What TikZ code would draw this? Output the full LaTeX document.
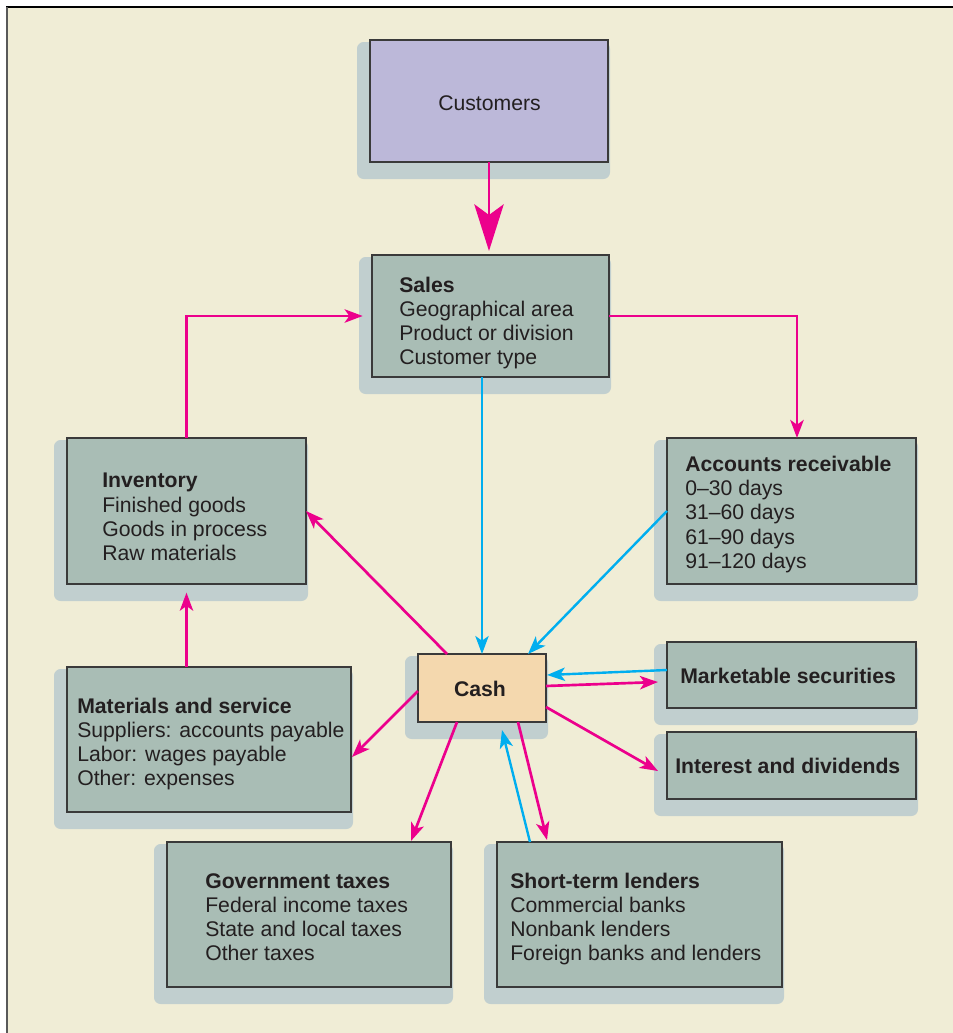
\documentclass[tikz,border=0pt]{standalone}
\usepackage{fontspec}
\setmainfont{Liberation Sans}
\usetikzlibrary{arrows.meta,calc,fit}
\definecolor{cream}{HTML}{F0EDD6}
\definecolor{boxgray}{HTML}{A9BDB5}
\definecolor{shadowc}{HTML}{C1CFCF}
\definecolor{custfill}{HTML}{BCB8D9}
\definecolor{cashfill}{HTML}{F4D8AE}
\definecolor{boxline}{HTML}{3A3A3A}
\definecolor{ink}{HTML}{231F20}
\definecolor{flowpink}{HTML}{EC008C}
\definecolor{flowblue}{HTML}{00AEEF}
\newcommand\diagfont{\fontsize{15.9pt}{18.1pt}\selectfont}
\pgfdeclarelayer{bg}
\pgfdeclarelayer{shade}
\pgfsetlayers{bg,shade,main}

\begin{document}
\begin{tikzpicture}[x=0.75pt,y=-0.75pt,
  box/.style={draw=boxline, line width=1.1pt, inner sep=0pt, outer sep=0pt,
    fill=boxgray},
  txt/.style={align=left, anchor=west, inner sep=0pt, text=ink, font=\diagfont},
  pk/.style={draw=flowpink, line width=2pt,
    -{Stealth[length=13.5pt,width=10pt,inset=3.5pt]}},
  bl/.style={draw=flowblue, line width=1.8pt,
    -{Stealth[length=13.5pt,width=10pt,inset=3.5pt]}}]

\useasboundingbox (0,0) rectangle (953,1033);

% page frame
\begin{pgfonlayer}{bg}
  \fill[cream] (7,7) rectangle (953,1033);
  \draw[black, line width=1.2pt] (953,7) -- (6,7);
  \draw[black!65, line width=1.5pt] (7,7) -- (7,1033);
\end{pgfonlayer}

% boxes
\node[box, fill=custfill, fit={(370,40) (608,162)}] (cust) {};
\node[box, fit={(372,255) (609,377)}] (sales) {};
\node[box, fit={(67,438) (306,584)}] (inv) {};
\node[box, fit={(667,438) (916,584)}] (ar) {};
\node[box, fit={(67,667) (351,812)}] (mat) {};
\node[box, fit={(167,842) (451,987)}] (gov) {};
\node[box, fit={(497,842) (782,987)}] (stl) {};
\node[box, fit={(667,642) (916,708)}] (ms) {};
\node[box, fit={(667,732) (916,799)}] (idv) {};
\node[box, fill=cashfill, fit={(418,654) (546,722)}] (cash) {};

% box texts
\node[txt, anchor=center] (custT) at (489.5,103) {Customers};
\node[txt, anchor=center] (cashT) at (480,689) {\textbf{Cash}};
\node[txt] (salesT) at (399,323) {\textbf{Sales}\\Geographical area\\Product or division\\Customer type};
\node[txt] (invT) at (102,517) {\textbf{Inventory}\\Finished goods\\Goods in process\\Raw materials};
\node[txt] (arT) at (685,514.5) {\textbf{Accounts receivable}\\0–30 days\\31–60 days\\61–90 days\\91–120 days};
\node[txt] (matT) at (77,744) {\textbf{Materials and service}\\Suppliers: accounts payable\\Labor: wages payable\\Other: expenses};
\node[txt] (govT) at (205,917) {\textbf{Government taxes}\\Federal income taxes\\State and local taxes\\Other taxes};
\node[txt] (stlT) at (510,919) {\textbf{Short-term lenders}\\Commercial banks\\Nonbank lenders\\Foreign banks and lenders};
\node[txt, anchor=base west] (msT) at (680,683) {\textbf{Marketable securities}};
\node[txt, anchor=base west] (idT) at (675,773) {\textbf{Interest and dividends}};

% soft drop shadows behind every box
\begin{pgfonlayer}{shade}
  \foreach \n in {cust,sales,inv,ar,mat,gov,stl,ms,idv,cash}
    \fill[shadowc, rounded corners=5pt]
      ($(\n.north west)+(-13,2)$) rectangle ($(\n.south east)+(2,17)$);
\end{pgfonlayer}

% flows
\draw[draw=flowpink, line width=2.2pt, shorten >=3,
  -{Stealth[length=35pt,width=22pt,inset=8pt]}] (cust.south) -- (cust.south |- sales.north);
\draw[pk] (sales.east) -| ($(ar.north)+(5.5,0)$);
\draw[pk, shorten >=7pt] (inv.north) |- (sales.west);
\draw[bl] (sales.south -| cash.north) -- (cash.north);
\draw[bl] (ar.west) -- ($(cash.north east)+(-18,0)$);
\draw[pk] ($(cash.north west)+(29,0)$) -- (inv.east);
\draw[pk, shorten >=6.5pt] (inv.south |- mat.north) -- (inv.south);
\draw[pk] ($(cash.west)+(0,3)$) -- ($(mat.east)+(1,17.5)$);
\draw[bl] ($(ms.west)+(0,-5)$) -- ($(cash.east)+(1,-13)$);
\draw[pk] ($(cash.east)+(0,-2)$) -- ($(ms.west)+(-9,7)$);
\draw[pk] ($(cash.east)+(0,19)$) -- ($(idv.west)+(-9,5.5)$);
\draw[pk] ($(cash.south)+(-25,0)$) -- ($(gov.north east)+(-40,-1)$);
\draw[pk] ($(cash.south)+(36,0)$) -- ($(stl.north west)+(50,-2)$);
\draw[bl] ($(stl.north west)+(33,0)$) -- ($(cash.south)+(20,8)$);
\end{tikzpicture}
\end{document}
